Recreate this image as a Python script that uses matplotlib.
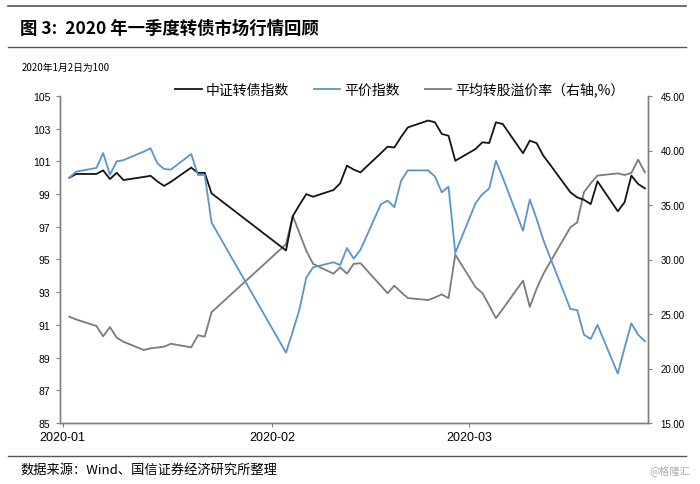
import numpy as np
import pandas as pd
import matplotlib
matplotlib.use('Agg')
import matplotlib.pyplot as plt
import matplotlib.dates as mdates
from matplotlib.lines import Line2D
from matplotlib.ticker import FormatStrFormatter, MultipleLocator

plt.rcParams['font.family'] = ['Noto Sans CJK SC', 'DejaVu Sans']

# trading days, Q1 2020 (Spring Festival break Jan 24 - Feb 2)
dates = pd.to_datetime([
    '2020-01-02', '2020-01-03', '2020-01-06', '2020-01-07', '2020-01-08', '2020-01-09',
    '2020-01-10', '2020-01-13', '2020-01-14', '2020-01-15', '2020-01-16', '2020-01-17',
    '2020-01-20', '2020-01-21', '2020-01-22', '2020-01-23',
    '2020-02-03', '2020-02-04', '2020-02-05', '2020-02-06', '2020-02-07', '2020-02-10',
    '2020-02-11', '2020-02-12', '2020-02-13', '2020-02-14', '2020-02-17', '2020-02-18',
    '2020-02-19', '2020-02-20', '2020-02-21', '2020-02-24', '2020-02-25', '2020-02-26',
    '2020-02-27', '2020-02-28',
    '2020-03-02', '2020-03-03', '2020-03-04', '2020-03-05', '2020-03-06', '2020-03-09',
    '2020-03-10', '2020-03-11', '2020-03-12', '2020-03-13', '2020-03-16', '2020-03-17',
    '2020-03-18', '2020-03-19', '2020-03-20', '2020-03-23', '2020-03-24', '2020-03-25',
    '2020-03-26', '2020-03-27',
])

# 中证转债指数 (left axis)
cb_index = [
    100.0, 100.23, 100.23, 100.45, 99.92, 100.3, 99.86, 100.05, 100.12, 99.78, 99.5, 99.75,
    100.62, 100.3, 100.3, 99.05,
    95.55, 97.65, 98.35, 99.0, 98.84, 99.25, 99.66, 100.74, 100.5, 100.33, 101.5, 101.9,
    101.85, 102.5, 103.08, 103.5, 103.39, 102.68, 102.57, 101.04,
    101.76, 102.17, 102.12, 103.39, 103.29, 101.5, 102.27, 102.12, 101.35, 100.8, 99.11, 98.8,
    98.65, 98.39, 99.78, 97.95, 98.5, 100.13, 99.62, 99.35,
]

# 平价指数 (left axis)
parity_index = [
    100.0, 100.37, 100.6, 101.51, 100.19, 101.0, 101.08, 101.6, 101.8, 100.88, 100.53, 100.5,
    101.45, 100.17, 100.17, 97.27,
    89.3, 90.6, 91.97, 93.9, 94.52, 94.83, 94.66, 95.7, 95.05, 95.6, 98.37, 98.6,
    98.2, 99.82, 100.45, 100.45, 100.07, 99.11, 99.45, 95.4,
    98.45, 99.0, 99.33, 101.04, 100.02, 96.76, 98.67, 97.5, 96.2, 95.13, 91.97, 91.91,
    90.4, 90.14, 91.0, 88.02, 89.6, 91.1, 90.4, 90.0,
]

# 平均转股溢价率 (right axis, %)
premium = [
    24.75, 24.5, 23.9, 22.95, 23.8, 22.83, 22.45, 21.7, 21.85, 21.92, 22.0, 22.27,
    21.94, 23.05, 22.92, 25.16,
    31.4, 34.02, 32.4, 30.8, 29.6, 28.7, 29.28, 28.7, 29.6, 29.66, 27.6, 26.9,
    27.6, 27.0, 26.46, 26.28, 26.52, 26.8, 26.45, 30.45,
    27.45, 26.93, 25.8, 24.62, 25.45, 28.06, 25.65, 27.3, 28.67, 29.75, 32.95, 33.4,
    36.17, 37.0, 37.7, 37.9, 37.75, 37.94, 39.16, 38.0,
]

fig = plt.figure(figsize=(7, 4.85), dpi=100)
ax = fig.add_axes([60 / 700, 1 - 424 / 485, 588 / 700, 327 / 485])
ax2 = ax.twinx()

c_black = '#141414'
c_blue = '#5b93cc'
c_grey = '#7b7b7b'

l1, = ax.plot(dates, cb_index, color=c_black, lw=1.3, label='中证转债指数')
l2, = ax.plot(dates, parity_index, color=c_blue, lw=1.3, label='平价指数')
l3, = ax2.plot(dates, premium, color=c_grey, lw=1.3, label='平均转股溢价率（右轴,%）')
ax.set_zorder(ax2.get_zorder() + 1)
ax.patch.set_visible(False)

ax.set_ylim(85, 105)
ax.yaxis.set_major_locator(MultipleLocator(2))
ax.set_yticks(np.arange(85, 106, 2))
ax2.set_ylim(15, 45)
ax2.set_yticks(np.arange(15, 46, 5))
ax2.yaxis.set_major_formatter(FormatStrFormatter('%.2f'))

ax.set_xlim(pd.Timestamp('2020-01-02') - pd.Timedelta(hours=33),
            pd.Timestamp('2020-03-27') + pd.Timedelta(hours=11))
ax.xaxis.set_major_locator(mdates.MonthLocator())
ax.xaxis.set_major_formatter(mdates.DateFormatter('%Y-%m'))

for a in (ax, ax2):
    a.spines['top'].set_visible(False)
    for s in ('left', 'right', 'bottom'):
        a.spines[s].set_color('#808080')
        a.spines[s].set_linewidth(1.0)
ax.tick_params(axis='y', direction='out', length=3, color='#808080', labelsize=7.5, pad=4)
ax.tick_params(axis='x', direction='out', length=3, color='#808080', labelsize=9, pad=3)
ax2.tick_params(axis='y', direction='out', length=3, color='#808080', labelsize=7, pad=6)
for lab in ax.get_xticklabels():
    lab.set_family(['Liberation Sans', 'DejaVu Sans'])
for lab in ax.get_yticklabels():
    lab.set_family(['Liberation Sans', 'DejaVu Sans'])
for lab in ax2.get_yticklabels():
    lab.set_family(['Liberation Sans', 'DejaVu Sans'])

fig.legend(handles=[l1, l2, l3], loc='center', bbox_to_anchor=(400 / 700, 1 - 90 / 485),
           ncol=3, frameon=False, fontsize=10, handlelength=1.9, handletextpad=0.3,
           columnspacing=1.8)

# header and footer
fig.add_artist(Line2D([8 / 700, 686 / 700], [1 - 7 / 485, 1 - 7 / 485], color='#555555', lw=1.2))
fig.add_artist(Line2D([8 / 700, 686 / 700], [1 - 48 / 485, 1 - 48 / 485], color='#555555', lw=1.0))
fig.add_artist(Line2D([8 / 700, 686 / 700], [1 - 457 / 485, 1 - 457 / 485], color='#555555', lw=1.0))
fig.text(20 / 700, 1 - 29 / 485, '图 3:  2020 年一季度转债市场行情回顾', fontsize=12.5,
         fontweight='bold', va='center', ha='left')
fig.text(22 / 700, 1 - 68 / 485, '2020年1月2日为100', fontsize=7, va='center', ha='left')
fig.text(20 / 700, 1 - 471 / 485, '数据来源：Wind、国信证券经济研究所整理', fontsize=9.5,
         va='center', ha='left')
fig.text(690 / 700, 1 - 471 / 485, '@格隆汇', fontsize=7.5, color='#aaaaaa',
         va='center', ha='right')

fig.savefig('out.png', dpi=100)
